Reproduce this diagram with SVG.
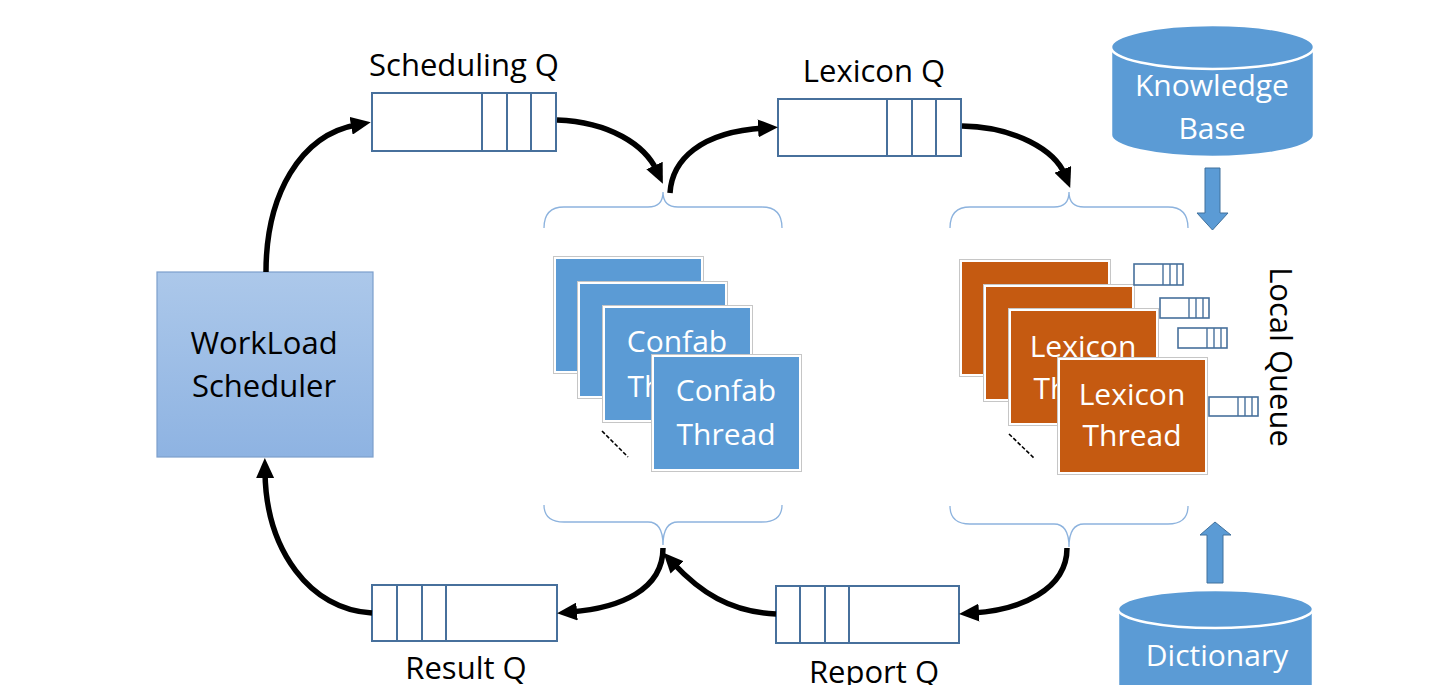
<svg xmlns="http://www.w3.org/2000/svg" width="1431" height="685" viewBox="0 0 1431 685">
  <style>
    .lbl { font-family: "Open Sans", "Liberation Sans", sans-serif; font-size: 31px; fill: #000; text-anchor: middle; }
    .wlbl { font-family: "Open Sans", "Liberation Sans", sans-serif; font-size: 30px; fill: #fff; text-anchor: middle; }
    .q { fill: #fff; stroke: #47709c; stroke-width: 2; }
    .qd { stroke: #47709c; stroke-width: 2; }
    .lq { fill: #fff; stroke: #47709c; stroke-width: 1.6; }
    .lqd { stroke: #47709c; stroke-width: 1.4; }
    .brace { fill: none; stroke: #8db3de; stroke-width: 1.3; }
    .flow { fill: none; stroke: #000; stroke-width: 5.5; marker-end: url(#head); }
    .frame { fill: #fff; stroke: #c6c6c6; stroke-width: 1; }
    .confab { fill: #5b9bd5; }
    .lexicon { fill: #c55a11; }
    .db { fill: #5b9bd5; stroke: #fff; stroke-width: 2.5; }
    .block { fill: #5b9bd5; stroke: #41719c; stroke-width: 1; }
  </style>
  <defs>
    <linearGradient id="schedFill" x1="0" y1="0" x2="0" y2="1">
      <stop offset="0" stop-color="#acc8ea"/>
      <stop offset="1" stop-color="#8eb3e2"/>
    </linearGradient>
    <marker id="head" markerUnits="userSpaceOnUse" viewBox="0 0 20 18" markerWidth="20" markerHeight="18" refX="6" refY="9" orient="auto">
      <path d="M0,0 L20,9 L0,18 z" fill="#000"/>
    </marker>
  </defs>

  <rect width="1431" height="685" fill="#fff"/>

  <!-- scheduler -->
  <g id="workload-scheduler">
    <rect x="157" y="272" width="216" height="185" fill="url(#schedFill)" stroke="#7c9fcc" stroke-width="1.2"/>
    <text class="lbl" x="264" y="354">WorkLoad</text>
    <text class="lbl" x="264" y="397">Scheduler</text>
  </g>

  <!-- queues -->
  <g id="scheduling-q">
    <rect class="q" x="372" y="93" width="184" height="58"/>
    <line class="qd" x1="482" y1="93" x2="482" y2="151"/>
    <line class="qd" x1="507" y1="93" x2="507" y2="151"/>
    <line class="qd" x1="531" y1="93" x2="531" y2="151"/>
    <text class="lbl" x="464" y="76">Scheduling Q</text>
  </g>

  <g id="lexicon-q">
    <rect class="q" x="778" y="99" width="183" height="57"/>
    <line class="qd" x1="887" y1="99" x2="887" y2="156"/>
    <line class="qd" x1="912" y1="99" x2="912" y2="156"/>
    <line class="qd" x1="936" y1="99" x2="936" y2="156"/>
    <text class="lbl" x="874" y="82">Lexicon Q</text>
  </g>

  <g id="result-q">
    <rect class="q" x="372" y="585" width="185" height="56"/>
    <line class="qd" x1="397" y1="585" x2="397" y2="641"/>
    <line class="qd" x1="422" y1="585" x2="422" y2="641"/>
    <line class="qd" x1="446" y1="585" x2="446" y2="641"/>
    <text class="lbl" x="466" y="679">Result Q</text>
  </g>

  <g id="report-q">
    <rect class="q" x="776" y="586" width="183" height="57"/>
    <line class="qd" x1="800" y1="586" x2="800" y2="643"/>
    <line class="qd" x1="825" y1="586" x2="825" y2="643"/>
    <line class="qd" x1="849" y1="586" x2="849" y2="643"/>
    <text class="lbl" x="874" y="683">Report Q</text>
  </g>

  <!-- confab thread pool -->
  <g id="confab-threads">
    <rect class="frame" x="553.5" y="256.5" width="150" height="117"/>
    <rect class="confab" x="556" y="259" width="145" height="112"/>
    <rect class="frame" x="577.5" y="281.5" width="150" height="117"/>
    <rect class="confab" x="580" y="284" width="145" height="112"/>
    <rect class="frame" x="602.5" y="305.5" width="150" height="117"/>
    <rect class="confab" x="605" y="308" width="145" height="112"/>
    <text class="wlbl" x="677" y="352">Confab</text>
    <text class="wlbl" x="677" y="397">Thread</text>
    <rect class="frame" x="651.5" y="354.5" width="150" height="117"/>
    <rect class="confab" x="654" y="357" width="145" height="112"/>
    <text class="wlbl" x="726" y="401">Confab</text>
    <text class="wlbl" x="726" y="445">Thread</text>
    <line x1="602" y1="431" x2="628" y2="457" stroke="#000" stroke-width="1.6" stroke-dasharray="4 2"/>
  </g>

  <!-- lexicon thread pool -->
  <g id="lexicon-threads">
    <rect class="frame" x="959.5" y="259.5" width="151" height="117"/>
    <rect class="lexicon" x="962" y="262" width="146" height="112"/>
    <rect class="frame" x="983.5" y="284.5" width="151" height="117"/>
    <rect class="lexicon" x="986" y="287" width="146" height="112"/>
    <rect class="frame" x="1008.5" y="308.5" width="150" height="117"/>
    <rect class="lexicon" x="1011" y="311" width="145" height="112"/>
    <text class="wlbl" x="1083" y="357">Lexicon</text>
    <text class="wlbl" x="1083" y="399">Thread</text>
    <rect class="frame" x="1057.5" y="357.5" width="150" height="117"/>
    <rect class="lexicon" x="1060" y="360" width="145" height="112"/>
    <text class="wlbl" x="1132" y="405">Lexicon</text>
    <text class="wlbl" x="1132" y="446">Thread</text>
    <line x1="1009" y1="434" x2="1035" y2="459" stroke="#000" stroke-width="1.6" stroke-dasharray="4 2"/>
  </g>

  <!-- per-thread local queues -->
  <g id="local-queues">
    <rect class="lq" x="1134" y="264" width="49" height="21"/>
    <line class="lqd" x1="1163" y1="264" x2="1163" y2="285"/>
    <line class="lqd" x1="1170" y1="264" x2="1170" y2="285"/>
    <line class="lqd" x1="1177" y1="264" x2="1177" y2="285"/>
    <rect class="lq" x="1160" y="298" width="49" height="20"/>
    <line class="lqd" x1="1189" y1="298" x2="1189" y2="318"/>
    <line class="lqd" x1="1196" y1="298" x2="1196" y2="318"/>
    <line class="lqd" x1="1203" y1="298" x2="1203" y2="318"/>
    <rect class="lq" x="1178" y="328" width="49" height="20"/>
    <line class="lqd" x1="1207" y1="328" x2="1207" y2="348"/>
    <line class="lqd" x1="1214" y1="328" x2="1214" y2="348"/>
    <line class="lqd" x1="1221" y1="328" x2="1221" y2="348"/>
    <rect class="lq" x="1209" y="397" width="49" height="19"/>
    <line class="lqd" x1="1238" y1="397" x2="1238" y2="416"/>
    <line class="lqd" x1="1245" y1="397" x2="1245" y2="416"/>
    <line class="lqd" x1="1252" y1="397" x2="1252" y2="416"/>
    <text class="lbl" transform="translate(1270,357) rotate(90)">Local Queue</text>
  </g>

  <!-- data stores -->
  <g id="knowledge-base">
    <path class="db" d="M1111,47 L1111,135 A101.5,22 0 0 0 1314,135 L1314,47 Z"/>
    <ellipse class="db" cx="1212.5" cy="47" rx="101.5" ry="22"/>
    <text class="wlbl" x="1212" y="96">Knowledge</text>
    <text class="wlbl" x="1212" y="139">Base</text>
  </g>

  <g id="dictionary">
    <path class="db" d="M1118,609 L1118,700 L1313,700 L1313,609 Z"/>
    <ellipse class="db" cx="1215.5" cy="609" rx="97.5" ry="19"/>
    <text class="wlbl" x="1217" y="666">Dictionary</text>
  </g>

  <!-- thread pool braces -->
  <g id="braces">
    <path class="brace" d="M544,228 Q544,207 564,207 L648,207 Q663,207 663,192 Q663,207 678,207 L762,207 Q782,207 782,228"/>
    <path class="brace" d="M544,505 Q544,522 564,522 L648,522 Q663,522 663,545 Q663,522 678,522 L762,522 Q782,522 782,505"/>
    <path class="brace" d="M950,228 Q950,207 970,207 L1054,207 Q1069,207 1069,192 Q1069,207 1084,207 L1168,207 Q1188,207 1188,228"/>
    <path class="brace" d="M950,506 Q950,524 970,524 L1054,524 Q1069,524 1069,547 Q1069,524 1084,524 L1168,524 Q1188,524 1188,506"/>
  </g>

  <!-- connectors -->
  <g id="connectors">
    <path class="flow" d="M266,272 C266,195 300,135 357,124.7"/>
    <path class="flow" d="M557,120 C610,122 645,145 657,171"/>
    <path class="flow" d="M670,193 C672,160 700,132 764,128"/>
    <path class="flow" d="M962,126 C1015,127 1055,150 1065,175"/>
    <path class="flow" d="M1067,548 C1067,590 1020,610 973,613"/>
    <path class="flow" d="M776,614 C730,612 700,592 673,563"/>
    <path class="flow" d="M663,548 C663,590 620,608 571,612"/>
    <path class="flow" d="M372,613 C310,610 266,550 265,472"/>
    <polygon class="block" points="1205,168 1220,168 1220,213 1228,213 1212.5,230 1197,213 1205,213"/>
    <polygon class="block" points="1207,583 1223,583 1223,535 1231,535 1215,522 1200,535 1207,535"/>
  </g>
</svg>
